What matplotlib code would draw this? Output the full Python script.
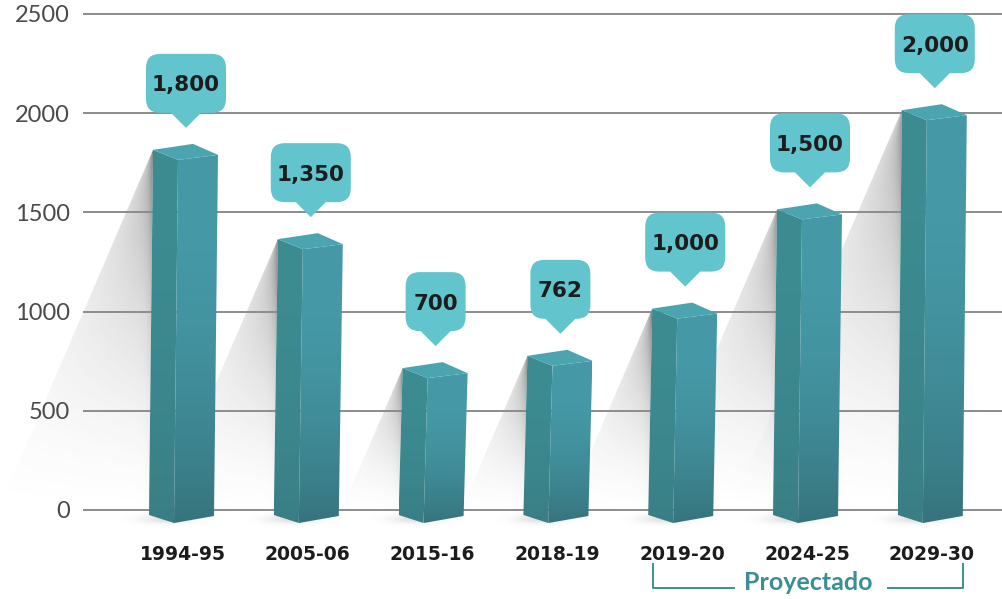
import numpy as np
import matplotlib
matplotlib.use('Agg')
import matplotlib.pyplot as plt
from matplotlib.patches import Polygon, PathPatch
from matplotlib.path import Path
from matplotlib.colors import to_rgb

# ---------------- data ----------------
categories = ['1994-95', '2005-06', '2015-16', '2018-19', '2019-20', '2024-25', '2029-30']
values = [1800, 1350, 700, 762, 1000, 1500, 2000]
value_labels = ['1,800', '1,350', '700', '762', '1,000', '1,500', '2,000']
y_ticks = [0, 500, 1000, 1500, 2000, 2500]
projected_label = 'Proyectado'
projected_first, projected_last = 4, 6

# ---------------- layout ----------------
W, H = 1003, 599
fig = plt.figure(figsize=(W / 100, H / 100), dpi=100)
ax = fig.add_axes([0, 0, 1, 1])
ax.set_autoscale_on(False)
PX = 124.8            # pixels per category
VPP = 2500 / 496      # value units per pixel
X0, Y0 = 183, 510     # pixel position of first category / zero line
xmin, xmax = -X0 / PX, (W - X0) / PX
ymin, ymax = -(H - Y0) * VPP, Y0 * VPP


def pt(x, v, ox, oy):
    """data coordinate of (category x, value v) offset by ox px right, oy px up"""
    return (x + ox / PX, v + oy * VPP)


def gradient_fill(verts, top_col, bot_col, zorder, power=1.0):
    poly = Polygon(verts, closed=True, transform=ax.transData, facecolor='none', edgecolor='none')
    xs = [p[0] for p in verts]; ys = [p[1] for p in verts]
    n = 200
    t = np.linspace(0, 1, n)[:, None] ** power
    c1 = np.array(to_rgb(top_col)); c2 = np.array(to_rgb(bot_col))
    img = c1[None, None, :] * (1 - t[..., None]) + c2[None, None, :] * t[..., None]
    img = np.repeat(img, 2, axis=1)
    im = ax.imshow(img, extent=(min(xs), max(xs), min(ys), max(ys)), origin='upper',
                   aspect='auto', zorder=zorder, interpolation='bilinear')
    im.set_clip_path(poly)


SLOPE = 0.43
SH = 4   # perspective shift of the bar bottom (px)
for i, v in enumerate(values):
    hpx = v / VPP
    # ---- long diagonal shadow ----
    Ltop = pt(i, v, -30, 3)
    Lbot = pt(i, 0, -30 - SH, -5)
    sw = SLOPE * (hpx + 8)
    tip = pt(i, 0, -30 - sw, -5)
    verts = [Ltop, Lbot, tip]
    poly = Polygon(verts, closed=True, transform=ax.transData, facecolor='none', edgecolor='none')
    ny, nx = int(hpx + 8) + 1, int(sw) + 2
    yy, xx = np.mgrid[0:ny, 0:nx]
    dist = (nx - 1 - xx).astype(float)           # px left of bar edge
    t = yy / max(ny - 1, 1)
    wmax = SLOPE * yy + 1e-6
    u = np.clip(dist / wmax, 0, 1)
    dark = 0.48 * (1 - t) ** 1.5 * (1 - 0.5 * u) + 0.22 * np.exp(-dist / 4.0) * (1 - t) ** 0.7
    dark = np.clip(dark, 0, 0.8)
    rgba = np.zeros((ny, nx, 4))
    rgba[..., :3] = 0.30
    rgba[..., 3] = dark
    im = ax.imshow(rgba, extent=(tip[0], Ltop[0], 0 - 5 * VPP, Ltop[1]), origin='upper',
                   aspect='auto', zorder=1, interpolation='bilinear')
    im.set_clip_path(poly)
    # ---- soft ground shadow ----
    gx, gy = np.meshgrid(np.linspace(-1, 1, 120), np.linspace(-1, 1, 40))
    g = np.exp(-(gx ** 2 * 4 + gy ** 2 * 5))
    rg = np.zeros((40, 120, 4)); rg[..., :3] = 0.3; rg[..., 3] = 0.18 * g
    c0 = pt(i, 0, -16, -9)
    ax.imshow(rg, extent=(c0[0] - 50 / PX, c0[0] + 50 / PX, c0[1] - 10 * VPP, c0[1] + 10 * VPP),
              aspect='auto', zorder=1.5, interpolation='bilinear')

# ---------------- grid ----------------
ax.hlines(y_ticks, xmin=(83 - X0) / PX, xmax=xmax, colors='#8c8c8c', lw=1.4, zorder=2)

# ---------------- bars ----------------
for i, v in enumerate(values):
    L = pt(i, v, -30, 3); B = pt(i, v, 10, 9); R = pt(i, v, 35, -2); F = pt(i, v, -5, -7)
    Lb = pt(i, 0, -30 - SH, -5); Fb = pt(i, 0, -5 - SH, -13); Rb = pt(i, 0, 35 - SH, -6)
    gradient_fill([L, F, Fb, Lb], '#3c8c92', '#3a7e85', 3, power=2.0)
    gradient_fill([F, R, Rb, Fb], '#469aa8', '#36747d', 3, power=2.2)
    ax.add_patch(Polygon([L, B, R, F], closed=True, facecolor='#4aa5b0', edgecolor='none', zorder=4))

# ---------------- callouts ----------------
for i, (v, lab) in enumerate(zip(values, value_labels)):
    w = 10 * len(lab) + 30
    r = 14
    tipy = 25; by = tipy + 15; ty = by + 59
    lx, rx = -w / 2, w / 2
    pw = 15
    ox = 3
    pts = [((lx + r), by), (-pw, by), (0, tipy), (pw, by), (rx - r, by),
           (rx, by), (rx, by + r), (rx, ty - r), (rx, ty), (rx - r, ty),
           (lx + r, ty), (lx, ty), (lx, ty - r), (lx, by + r), (lx, by), (lx + r, by), (0, 0)]
    codes = [Path.MOVETO, Path.LINETO, Path.LINETO, Path.LINETO, Path.LINETO,
             Path.CURVE3, Path.CURVE3, Path.LINETO, Path.CURVE3, Path.CURVE3,
             Path.LINETO, Path.CURVE3, Path.CURVE3, Path.LINETO, Path.CURVE3, Path.CURVE3, Path.CLOSEPOLY]
    dverts = [pt(i, v, ox + px_, py_) for px_, py_ in pts]
    ax.add_patch(PathPatch(Path(dverts, codes), facecolor='#62c4cd', edgecolor='none', zorder=5))
    tx, tyy = pt(i, v, ox, (by + ty) / 2)
    ax.text(tx, tyy, lab, ha='center', va='center_baseline', fontsize=15.5, fontweight='bold',
            color='#1c1c1c', zorder=6)

# ---------------- axes / ticks ----------------
for s in ax.spines.values():
    s.set_visible(False)
ax.set_yticks(y_ticks)
ax.set_yticklabels([str(t) for t in y_ticks], fontfamily='Lato', fontweight='normal')
ax.tick_params(axis='y', length=0, pad=-50.4, labelsize=17, labelcolor='#4a4a4a')
ax.set_xticks(range(len(categories)))
ax.set_xticklabels(categories, fontweight='bold')
ax.tick_params(axis='x', length=0, pad=-39, labelsize=13.5, labelcolor='#1c1c1c')

# ---------------- projected bracket ----------------
teal = '#3a8f95'
xl = projected_first - 29 / PX
xr = projected_last + 31 / PX
xc = (projected_first + projected_last) / 2 + 1 / PX
yb = (Y0 - 588) * VPP
yt = (Y0 - 563) * VPP
ax.plot([xl, xl, xc - 73 / PX], [yt, yb, yb], color=teal, lw=1.4, zorder=3, solid_capstyle='butt')
ax.plot([xc + 79 / PX, xr, xr], [yb, yb, yt], color=teal, lw=1.4, zorder=3, solid_capstyle='butt')
ax.text(xc, (Y0 - 583) * VPP, projected_label, ha='center', va='center', fontsize=18,
        fontfamily='Lato', fontweight='bold', color=teal, zorder=3)

ax.set_xlim(xmin, xmax)
ax.set_ylim(ymin, ymax)
fig.savefig('out.png', dpi=100, facecolor='white')
